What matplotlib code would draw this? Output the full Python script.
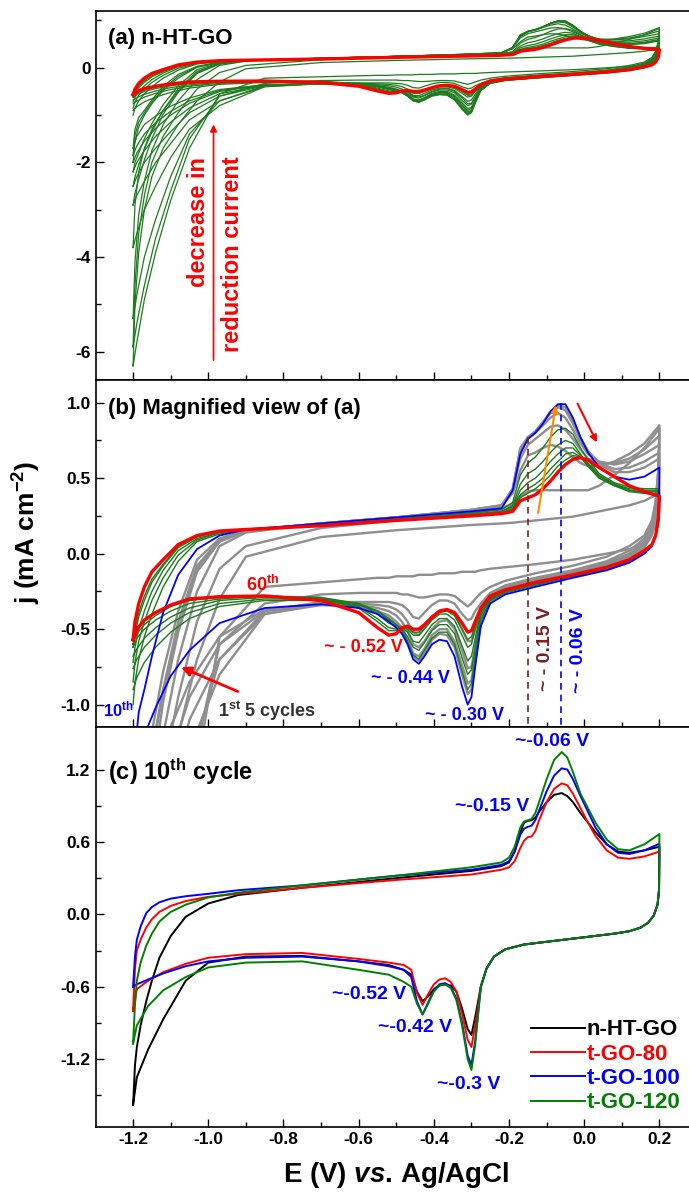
import numpy as np
import matplotlib
matplotlib.use("Agg")
from matplotlib import pyplot as plt

plt.rcParams['font.family'] = ['Liberation Sans', 'DejaVu Sans']
plt.rcParams['font.weight'] = 'bold'
plt.rcParams['axes.unicode_minus'] = False
plt.rcParams['mathtext.fontset'] = 'custom'
plt.rcParams['mathtext.rm'] = 'Liberation Sans:bold'
plt.rcParams['mathtext.bf'] = 'Liberation Sans:bold'
plt.rcParams['mathtext.it'] = 'Liberation Sans:italic:bold'
plt.rcParams['mathtext.default'] = 'bf'

# ---------------- panel (c): 10th cycle of the four samples ----------------
c_fwd_E = [-1.2, -1.195, -1.19, -1.18, -1.165, -1.15, -1.13, -1.1, -1.06, -1.0, -0.92, -0.75,
           -0.5, -0.3, -0.22, -0.2, -0.185, -0.17, -0.16, -0.15, -0.14, -0.13, -0.12, -0.1,
           -0.08, -0.06, -0.045, -0.03, -0.01, 0.01, 0.03, 0.06, 0.09, 0.12, 0.16, 0.2]
c_rev_E = [0.2, 0.199, 0.195, 0.185, 0.17, 0.15, 0.12, 0.08, 0.0, -0.08, -0.16, -0.21, -0.24,
           -0.26, -0.275, -0.29, -0.3, -0.31, -0.325, -0.34, -0.355, -0.37, -0.385, -0.4,
           -0.415, -0.43, -0.445, -0.46, -0.48, -0.52, -0.6, -0.75, -0.9, -1.0, -1.06, -1.12,
           -1.16, -1.19, -1.2]

nht_fwd = [-1.58, -1.25, -1.10, -0.92, -0.72, -0.55, -0.36, -0.18, -0.02, 0.09, 0.16, 0.22,
           0.30, 0.36, 0.40, 0.43, 0.52, 0.68, 0.76, 0.775, 0.78, 0.80, 0.85, 0.93,
           0.99, 1.005, 0.98, 0.93, 0.84, 0.76, 0.68, 0.58, 0.52, 0.51, 0.53, 0.56]
go80_fwd = [-0.80, -0.45, -0.30, -0.21, -0.11, -0.04, 0.02, 0.07, 0.11, 0.145, 0.17, 0.22,
            0.285, 0.33, 0.37, 0.39, 0.44, 0.55, 0.61, 0.64, 0.645, 0.69, 0.78, 0.93,
            1.04, 1.085, 1.07, 1.0, 0.88, 0.76, 0.65, 0.53, 0.47, 0.46, 0.48, 0.52]
go100_fwd = [-0.60, -0.35, -0.21, -0.10, 0.01, 0.06, 0.10, 0.13, 0.15, 0.17, 0.20, 0.24,
             0.32, 0.37, 0.41, 0.44, 0.52, 0.66, 0.71, 0.725, 0.735, 0.78, 0.86, 1.02,
             1.15, 1.21, 1.20, 1.12, 0.98, 0.85, 0.72, 0.58, 0.51, 0.50, 0.53, 0.585]
go120_fwd = [-1.07, -0.75, -0.55, -0.40, -0.26, -0.16, -0.06, 0.02, 0.08, 0.14, 0.18, 0.24,
             0.32, 0.39, 0.43, 0.47, 0.56, 0.72, 0.77, 0.78, 0.79, 0.84, 0.93, 1.12,
             1.28, 1.345, 1.30, 1.18, 1.0, 0.88, 0.76, 0.62, 0.54, 0.53, 0.58, 0.665]

nht_rev = [0.56, 0.2, 0.08, -0.01, -0.07, -0.11, -0.14, -0.16, -0.19, -0.22, -0.25, -0.29, -0.35,
           -0.45, -0.60, -0.85, -1.0, -0.95, -0.78, -0.64, -0.59, -0.58, -0.59, -0.62,
           -0.68, -0.72, -0.64, -0.50, -0.46, -0.42, -0.39, -0.345, -0.35, -0.40, -0.55, -0.87,
           -1.12, -1.35, -1.58]
go80_rev = [0.52, 0.2, 0.08, -0.01, -0.07, -0.11, -0.14, -0.16, -0.19, -0.22, -0.25, -0.29, -0.35,
            -0.45, -0.60, -0.92, -1.1, -1.04, -0.82, -0.64, -0.56, -0.53, -0.54, -0.58,
            -0.66, -0.75, -0.65, -0.46, -0.42, -0.40, -0.37, -0.32, -0.33, -0.36, -0.41, -0.48,
            -0.55, -0.62, -0.80]
go100_rev = [0.585, 0.2, 0.08, -0.01, -0.07, -0.11, -0.14, -0.16, -0.19, -0.22, -0.25, -0.29, -0.35,
             -0.45, -0.60, -1.05, -1.25, -1.17, -0.90, -0.70, -0.60, -0.57, -0.58, -0.63,
             -0.73, -0.83, -0.72, -0.52, -0.46, -0.43, -0.39, -0.35, -0.36, -0.39, -0.43, -0.49,
             -0.54, -0.58, -0.60]
go120_rev = [0.665, 0.2, 0.08, -0.01, -0.07, -0.11, -0.14, -0.16, -0.19, -0.22, -0.25, -0.29, -0.35,
             -0.45, -0.60, -1.08, -1.29, -1.20, -0.92, -0.71, -0.61, -0.58, -0.59, -0.64,
             -0.74, -0.83, -0.74, -0.60, -0.56, -0.50, -0.46, -0.39, -0.40, -0.44, -0.52, -0.63,
             -0.76, -0.92, -1.07]

c_labels = ['n-HT-GO', 't-GO-80', 't-GO-100', 't-GO-120']
c_colors = ['black', 'red', 'blue', 'green']

# ---------------- panels (a)/(b): repeated cycling of n-HT-GO ----------------
EF = [-1.2, -1.195, -1.185, -1.17, -1.15, -1.12, -1.08, -1.03, -0.97, -0.9, -0.7, -0.5, -0.3,
      -0.22, -0.19, -0.17, -0.15, -0.13, -0.11, -0.09, -0.07, -0.05, -0.03, -0.01, 0.01, 0.04,
      0.08, 0.12, 0.16, 0.2]
ER = [0.2, 0.197, 0.19, 0.18, 0.16, 0.12, 0.06, -0.03, -0.13, -0.21, -0.25, -0.275, -0.29, -0.3,
      -0.31, -0.325, -0.345, -0.365, -0.385, -0.405, -0.425, -0.44, -0.455, -0.47, -0.485, -0.5,
      -0.52, -0.55, -0.6, -0.7, -0.85, -0.97, -1.05, -1.1, -1.14, -1.17, -1.19, -1.2]

# first cycles (grey in b)
cyc1_fwd = [-6.3, -5.0, -3.9, -3.0, -2.3, -1.7, -1.2, -0.7, -0.3, -0.02, 0.11, 0.155, 0.19,
            0.2, 0.205, 0.21, 0.215, 0.22, 0.225, 0.23, 0.235, 0.24, 0.245, 0.255, 0.265, 0.28,
            0.30, 0.32, 0.35, 0.40]
cyc1_rev = [0.38, 0.30, 0.20, 0.13, 0.07, 0.03, 0.0, -0.04, -0.07, -0.09, -0.10, -0.11, -0.12, -0.12,
            -0.12, -0.12, -0.13, -0.13, -0.13, -0.14, -0.14, -0.14, -0.15, -0.15, -0.15, -0.15,
            -0.16, -0.16, -0.17, -0.19, -0.22, -0.55, -1.7, -2.8, -3.9, -4.9, -5.8, -6.3]
cyc2_fwd = [-5.9, -4.6, -3.5, -2.7, -2.0, -1.45, -0.95, -0.45, -0.1, 0.05, 0.17, 0.22, 0.27,
            0.30, 0.33, 0.38, 0.41, 0.42, 0.42, 0.42, 0.42, 0.42, 0.42, 0.42, 0.42, 0.45,
            0.52, 0.60, 0.70, 0.83]
cyc2_rev = [0.80, 0.55, 0.35, 0.22, 0.12, 0.05, -0.02, -0.08, -0.13, -0.18, -0.22, -0.26, -0.30, -0.33,
            -0.35, -0.32, -0.28, -0.27, -0.27, -0.28, -0.29, -0.29, -0.28, -0.27, -0.27, -0.26,
            -0.26, -0.26, -0.26, -0.27, -0.33, -0.6, -1.5, -2.6, -3.6, -4.6, -5.4, -5.9]
cyc3_fwd = [-5.3, -4.1, -3.1, -2.4, -1.75, -1.2, -0.7, -0.25, 0.05, 0.14, 0.20, 0.24, 0.29,
            0.32, 0.40, 0.55, 0.65, 0.67, 0.70, 0.72, 0.71, 0.68, 0.64, 0.60, 0.58, 0.58,
            0.61, 0.66, 0.73, 0.85]
cyc3_rev = [0.82, 0.55, 0.33, 0.20, 0.10, 0.02, -0.05, -0.11, -0.16, -0.21, -0.26, -0.33, -0.38, -0.43,
            -0.44, -0.40, -0.33, -0.31, -0.31, -0.34, -0.39, -0.43, -0.42, -0.37, -0.34, -0.33,
            -0.32, -0.32, -0.32, -0.32, -0.38, -0.7, -1.4, -2.3, -3.2, -4.0, -4.8, -5.3]
cyc4_fwd = [-3.8, -2.9, -2.2, -1.7, -1.3, -0.9, -0.5, -0.1, 0.08, 0.15, 0.20, 0.24, 0.29,
            0.32, 0.42, 0.63, 0.72, 0.76, 0.80, 0.84, 0.85, 0.82, 0.76, 0.69, 0.63, 0.60,
            0.60, 0.63, 0.69, 0.78]
cyc4_rev = [0.75, 0.5, 0.3, 0.18, 0.08, 0.0, -0.06, -0.12, -0.17, -0.22, -0.28, -0.38, -0.50, -0.58,
            -0.58, -0.50, -0.40, -0.37, -0.38, -0.42, -0.49, -0.54, -0.52, -0.45, -0.40, -0.37,
            -0.35, -0.34, -0.33, -0.33, -0.40, -0.8, -1.3, -1.9, -2.5, -3.0, -3.5, -3.8]
cyc5_fwd = [-2.9, -2.65, -2.35, -1.95, -1.5, -0.98, -0.52, -0.12, 0.08, 0.15, 0.20, 0.24, 0.29,
            0.32, 0.43, 0.68, 0.76, 0.80, 0.85, 0.90, 0.93, 0.90, 0.82, 0.73, 0.66, 0.61,
            0.59, 0.61, 0.66, 0.72]
cyc5_rev = [0.70, 0.45, 0.27, 0.16, 0.07, -0.01, -0.07, -0.13, -0.18, -0.23, -0.30, -0.42, -0.62, -0.75,
            -0.76, -0.64, -0.50, -0.44, -0.45, -0.50, -0.58, -0.62, -0.60, -0.51, -0.45, -0.41,
            -0.38, -0.36, -0.34, -0.34, -0.40, -0.7, -1.1, -1.6, -2.0, -2.4, -2.7, -2.9]
cyc6_fwd = [-2.5, -2.3, -2.05, -1.72, -1.35, -0.9, -0.45, -0.08, 0.09, 0.15, 0.2, 0.24, 0.285,
            0.31, 0.43, 0.7, 0.77, 0.81, 0.87, 0.93, 0.97, 0.95, 0.86, 0.76, 0.68, 0.60,
            0.56, 0.57, 0.61, 0.67]
cyc6_rev = [0.65, 0.42, 0.25, 0.14, 0.06, -0.02, -0.08, -0.14, -0.19, -0.24, -0.31, -0.44, -0.68, -0.84,
            -0.86, -0.74, -0.58, -0.50, -0.50, -0.54, -0.63, -0.68, -0.66, -0.56, -0.49, -0.45,
            -0.41, -0.38, -0.35, -0.34, -0.38, -0.6, -0.95, -1.35, -1.7, -2.0, -2.3, -2.5]
cyc7_fwd = [-2.2, -2.0, -1.8, -1.5, -1.18, -0.78, -0.38, -0.04, 0.1, 0.155, 0.2, 0.24, 0.285,
            0.305, 0.43, 0.69, 0.77, 0.81, 0.87, 0.94, 0.98, 0.97, 0.88, 0.77, 0.68, 0.59,
            0.54, 0.54, 0.57, 0.63]
cyc7_rev = [0.6, 0.38, 0.22, 0.12, 0.04, -0.03, -0.09, -0.15, -0.2, -0.25, -0.32, -0.46, -0.71, -0.9,
            -0.93, -0.8, -0.62, -0.54, -0.53, -0.57, -0.66, -0.71, -0.68, -0.58, -0.51, -0.47,
            -0.43, -0.39, -0.355, -0.335, -0.37, -0.55, -0.85, -1.15, -1.45, -1.75, -2.0, -2.2]
cyc8_fwd = [-2.0, -1.55, -1.25, -1.0, -0.76, -0.48, -0.22, 0.01, 0.11, 0.155, 0.2, 0.24, 0.283,
            0.303, 0.43, 0.68, 0.77, 0.80, 0.86, 0.94, 0.985, 0.98, 0.89, 0.77, 0.675, 0.58,
            0.52, 0.51, 0.54, 0.60]
cyc8_rev = [0.58, 0.36, 0.2, 0.1, 0.03, -0.04, -0.1, -0.155, -0.21, -0.26, -0.325, -0.47, -0.73, -0.92,
            -0.96, -0.84, -0.65, -0.56, -0.55, -0.58, -0.67, -0.72, -0.69, -0.59, -0.52, -0.48,
            -0.44, -0.395, -0.358, -0.335, -0.365, -0.5, -0.75, -1.0, -1.28, -1.55, -1.8, -2.0]
cyc9_fwd = [-1.85, -1.42, -1.15, -0.95, -0.72, -0.44, -0.18, 0.02, 0.115, 0.157, 0.2, 0.24, 0.282,
            0.302, 0.425, 0.67, 0.765, 0.80, 0.86, 0.94, 0.99, 0.985, 0.895, 0.77, 0.672, 0.575,
            0.515, 0.50, 0.525, 0.585]
cyc9_rev = [0.56, 0.34, 0.18, 0.09, 0.02, -0.05, -0.105, -0.158, -0.215, -0.265, -0.33, -0.475, -0.74, -0.94,
            -0.98, -0.86, -0.67, -0.57, -0.56, -0.59, -0.675, -0.725, -0.695, -0.595, -0.525, -0.485,
            -0.445, -0.398, -0.36, -0.335, -0.362, -0.48, -0.7, -0.92, -1.16, -1.4, -1.65, -1.85]
grey_cycles = [(cyc1_fwd, cyc1_rev), (cyc2_fwd, cyc2_rev), (cyc3_fwd, cyc3_rev),
               (cyc4_fwd, cyc4_rev), (cyc5_fwd, cyc5_rev), (cyc6_fwd, cyc6_rev),
               (cyc7_fwd, cyc7_rev)]
late_grey_cycles = [(cyc8_fwd, cyc8_rev), (cyc9_fwd, cyc9_rev)]

# 10th cycle (blue)
cyc10_fwd = [-1.7, -1.3, -1.05, -0.9, -0.68, -0.39, -0.14, 0.03, 0.12, 0.16, 0.20, 0.24, 0.28,
             0.30, 0.42, 0.66, 0.76, 0.80, 0.86, 0.94, 0.99, 0.99, 0.90, 0.77, 0.67, 0.57,
             0.51, 0.49, 0.51, 0.57]
cyc10_rev = [0.45, 0.25, 0.12, 0.05, 0.0, -0.06, -0.11, -0.16, -0.22, -0.27, -0.33, -0.48, -0.75, -0.95,
             -1.0, -0.88, -0.68, -0.58, -0.57, -0.60, -0.68, -0.73, -0.70, -0.60, -0.53, -0.49,
             -0.45, -0.40, -0.36, -0.335, -0.36, -0.46, -0.64, -0.81, -1.02, -1.2, -1.45, -1.7]

# intermediate cycles (green in b)
cycA_fwd = [-1.0, -0.85, -0.7, -0.55, -0.4, -0.22, -0.05, 0.08, 0.13, 0.16, 0.19, 0.23, 0.27,
            0.29, 0.34, 0.52, 0.60, 0.64, 0.70, 0.77, 0.82, 0.83, 0.79, 0.70, 0.62, 0.53,
            0.47, 0.44, 0.43, 0.43]
cycA_rev = [0.42, 0.25, 0.13, 0.06, 0.01, -0.05, -0.10, -0.15, -0.21, -0.26, -0.31, -0.44, -0.68, -0.86,
            -0.90, -0.78, -0.60, -0.52, -0.52, -0.56, -0.64, -0.70, -0.67, -0.58, -0.51, -0.47,
            -0.43, -0.38, -0.34, -0.31, -0.31, -0.35, -0.43, -0.52, -0.62, -0.72, -0.82, -0.9]
cycB_fwd = [-0.85, -0.72, -0.58, -0.45, -0.31, -0.16, -0.01, 0.09, 0.14, 0.16, 0.19, 0.22, 0.26,
            0.28, 0.32, 0.46, 0.53, 0.56, 0.61, 0.67, 0.72, 0.75, 0.73, 0.66, 0.59, 0.51,
            0.46, 0.43, 0.42, 0.42]
cycB_rev = [0.41, 0.24, 0.13, 0.06, 0.01, -0.05, -0.10, -0.15, -0.20, -0.25, -0.30, -0.41, -0.62, -0.77,
            -0.80, -0.69, -0.53, -0.47, -0.47, -0.51, -0.59, -0.64, -0.62, -0.55, -0.50, -0.47,
            -0.44, -0.38, -0.33, -0.30, -0.30, -0.33, -0.39, -0.46, -0.54, -0.62, -0.70, -0.76]
cycC_fwd = [-0.72, -0.62, -0.50, -0.38, -0.25, -0.11, 0.02, 0.10, 0.14, 0.16, 0.19, 0.22, 0.26,
            0.28, 0.31, 0.42, 0.47, 0.50, 0.55, 0.61, 0.66, 0.70, 0.70, 0.65, 0.58, 0.50,
            0.45, 0.42, 0.41, 0.41]
cycC_rev = [0.40, 0.23, 0.12, 0.06, 0.01, -0.05, -0.10, -0.15, -0.20, -0.25, -0.30, -0.39, -0.56, -0.68,
            -0.71, -0.61, -0.48, -0.43, -0.43, -0.47, -0.54, -0.59, -0.58, -0.52, -0.49, -0.48,
            -0.46, -0.40, -0.33, -0.29, -0.29, -0.31, -0.36, -0.42, -0.49, -0.56, -0.63, -0.68]
cycD_fwd = [-0.62, -0.53, -0.42, -0.31, -0.19, -0.08, 0.04, 0.11, 0.15, 0.16, 0.19, 0.22, 0.26,
            0.27, 0.30, 0.39, 0.43, 0.46, 0.50, 0.56, 0.61, 0.66, 0.67, 0.64, 0.58, 0.50,
            0.45, 0.41, 0.40, 0.40]
cycD_rev = [0.39, 0.22, 0.12, 0.06, 0.01, -0.05, -0.10, -0.15, -0.20, -0.25, -0.29, -0.37, -0.50, -0.60,
            -0.62, -0.54, -0.44, -0.40, -0.40, -0.44, -0.50, -0.54, -0.54, -0.50, -0.49, -0.50,
            -0.49, -0.43, -0.35, -0.29, -0.28, -0.30, -0.33, -0.38, -0.44, -0.50, -0.56, -0.62]
cycE_fwd = [-0.6, -0.5, -0.39, -0.28, -0.17, -0.07, 0.05, 0.115, 0.15, 0.16, 0.19, 0.22, 0.255,
            0.27, 0.295, 0.37, 0.40, 0.43, 0.47, 0.52, 0.58, 0.62, 0.65, 0.64, 0.60, 0.52,
            0.46, 0.42, 0.40, 0.39]
cycE_rev = [0.38, 0.22, 0.12, 0.06, 0.015, -0.045, -0.095, -0.145, -0.195, -0.245, -0.285, -0.37, -0.47, -0.55,
            -0.57, -0.50, -0.41, -0.38, -0.39, -0.43, -0.48, -0.52, -0.52, -0.49, -0.49, -0.51,
            -0.51, -0.45, -0.36, -0.30, -0.28, -0.29, -0.31, -0.35, -0.41, -0.47, -0.53, -0.6]
green_cycles = [(cycA_fwd, cycA_rev), (cycB_fwd, cycB_rev), (cycC_fwd, cycC_rev),
                (cycD_fwd, cycD_rev), (cycE_fwd, cycE_rev)]

# 60th cycle (red)
cyc60_fwd = [-0.57, -0.45, -0.33, -0.22, -0.12, -0.04, 0.06, 0.12, 0.15, 0.16, 0.185, 0.22, 0.25,
             0.265, 0.28, 0.35, 0.37, 0.39, 0.43, 0.48, 0.54, 0.59, 0.625, 0.635, 0.62, 0.57,
             0.51, 0.45, 0.41, 0.38]
cyc60_rev = [0.37, 0.22, 0.12, 0.06, 0.02, -0.04, -0.09, -0.14, -0.19, -0.24, -0.28, -0.36, -0.45, -0.51,
             -0.52, -0.46, -0.39, -0.37, -0.38, -0.42, -0.47, -0.50, -0.50, -0.48, -0.49, -0.53,
             -0.54, -0.49, -0.39, -0.31, -0.28, -0.285, -0.30, -0.34, -0.39, -0.44, -0.50, -0.57]


def loop(fwd, rev):
    return EF + ER, list(fwd) + list(rev)


GREEN = '#1d7a1d'
GREY = '#8e8e8e'

fig = plt.figure(figsize=(6.89, 11.96), dpi=100)
L, W = 95.5 / 689, 601.5 / 689
ax_a = fig.add_axes([L, 1 - 380 / 1196, W, 369 / 1196])
ax_b = fig.add_axes([L, 1 - 727.3 / 1196, W, 347.3 / 1196])
ax_c = fig.add_axes([L, 1 - 1126.7 / 1196, W, 399.4 / 1196])

# ---- (a)
all_cycles = grey_cycles + late_grey_cycles + [(cyc10_fwd, cyc10_rev)] + green_cycles
for f, r in all_cycles:
    x, y = loop(f, r)
    ax_a.plot(x, y, color=GREEN, lw=0.9)
x, y = loop(cyc60_fwd, cyc60_rev)
ax_a.plot(x, y, color='red', lw=2.4)
ax_a.set_ylim(-6.6, 1.2)
ax_a.set_yticks([-6, -4, -2, 0])
ax_a.set_yticks([-5, -3, -1, 1], minor=True)
ax_a.text(0.02, 0.925, '(a) n-HT-GO', transform=ax_a.transAxes, fontsize=16, va='center')
ax_a.annotate('', xy=(-0.986, -1.14), xytext=(-0.986, -6.24),
              arrowprops=dict(arrowstyle='-|>', color='red', lw=1.2, mutation_scale=10))
ax_a.text(-1.025, -1.88, 'decrease in', color='red', rotation=90, ha='center', va='top', fontsize=17)
ax_a.text(-0.935, -1.88, 'reduction current', color='red', rotation=90, ha='center', va='top', fontsize=17)

# ---- (b)
for f, r in grey_cycles:
    x, y = loop(f, r)
    ax_b.plot(x, y, color=GREY, lw=1.7)
for f, r in green_cycles:
    x, y = loop(f, r)
    ax_b.plot(x, y, color=GREEN, lw=1.0)
x, y = loop(cyc10_fwd, cyc10_rev)
ax_b.plot(x, y, color='blue', lw=1.3)
x, y = loop(cyc60_fwd, cyc60_rev)
ax_b.plot(x, y, color='red', lw=2.4)
ax_b.set_ylim(-1.15, 1.15)
ax_b.set_yticks([-1.0, -0.5, 0.0, 0.5, 1.0])
ax_b.set_yticks([-0.75, -0.25, 0.25, 0.75], minor=True)
ax_b.set_yticklabels(['-1.0', '-0.5', '0.0', '0.5', '1.0'])
ax_b.text(0.02, 0.919, '(b) Magnified view of (a)', transform=ax_b.transAxes, fontsize=16, va='center')
ax_b.plot([-0.15, -0.15], [0.77, -1.15], ls=(0, (4, 3)), color='#7a1f1f', lw=1.2)
ax_b.plot([-0.062, -0.062], [1.0, -1.15], ls=(0, (4, 3)), color='blue', lw=1.2)
ax_b.text(-0.103, -0.63, '~ - 0.15 V', rotation=90, color='#7a1f1f', ha='center', va='center', fontsize=14)
ax_b.text(-0.015, -0.645, '~ - 0.06 V', rotation=90, color='blue', ha='center', va='center', fontsize=14)
ax_b.text(-0.588, -0.62, '~ - 0.52 V', color='red', ha='center', va='center', fontsize=13)
ax_b.text(-0.463, -0.83, '~ - 0.44 V', color='blue', ha='center', va='center', fontsize=13)
ax_b.text(-0.319, -1.075, '~ - 0.30 V', color='blue', ha='center', va='center', fontsize=13)
ax_b.text(-0.855, -0.21, '60$^{th}$', color='red', ha='center', va='center', fontsize=13)
ax_b.text(-1.24, -1.03, '10$^{th}$', color='blue', ha='center', va='center', fontsize=12)
ax_b.text(-0.974, -1.04, '1$^{st}$ 5 cycles', color='#333333', ha='left', va='center', fontsize=13)
ax_b.annotate('', xy=(-1.079, -0.745), xytext=(-0.915, -0.92),
              arrowprops=dict(arrowstyle='-|>', color='red', lw=2, mutation_scale=14))
ax_b.annotate('', xy=(-0.074, 1.0), xytext=(-0.124, 0.25),
              arrowprops=dict(arrowstyle='-|>', color='darkorange', lw=1.5, mutation_scale=10))
ax_b.annotate('', xy=(0.037, 0.72), xytext=(-0.021, 1.01),
              arrowprops=dict(arrowstyle='-|>', color='red', lw=1.5, mutation_scale=10))
ax_b.set_ylabel('j (mA cm$^{-2}$)', fontsize=19, fontweight='bold')
ax_b.yaxis.set_label_coords(-0.088, 0.56)

# ---- (c)
for lab, col, f, r in zip(c_labels, c_colors, [nht_fwd, go80_fwd, go100_fwd, go120_fwd],
                          [nht_rev, go80_rev, go100_rev, go120_rev]):
    ax_c.plot(c_fwd_E + c_rev_E, list(f) + list(r), color=col, lw=1.4, label=lab)
ax_c.set_ylim(-1.76, 1.55)
ax_c.set_yticks([-1.2, -0.6, 0.0, 0.6, 1.2])
ax_c.set_yticks([-1.5, -0.9, -0.3, 0.3, 0.9], minor=True)
ax_c.text(0.02, 0.888, '(c) 10$^{th}$ cycle', transform=ax_c.transAxes, fontsize=17, va='center')
for s, ex, ey in [('~-0.06 V', -0.085, 1.435), ('~-0.15 V', -0.246, 0.89), ('~-0.52 V', -0.573, -0.668),
                  ('~-0.42 V', -0.45, -0.94), ('~-0.3 V', -0.307, -1.41)]:
    ax_c.text(ex, ey, s, color='blue', ha='center', va='center', fontsize=14)
leg = ax_c.legend(loc='lower right', bbox_to_anchor=(0.995, 0.0), frameon=False, fontsize=16,
                  handlelength=2.4, labelcolor='linecolor', borderaxespad=0.2, labelspacing=0.15,
                  handletextpad=0.1)
ax_c.set_xlabel('E (V) $\\it{vs}$. Ag/AgCl', fontsize=20, fontweight='bold', labelpad=10)

for ax in (ax_a, ax_b, ax_c):
    ax.set_xlim(-1.3, 0.3)
    ax.set_xticks([-1.2, -1.0, -0.8, -0.6, -0.4, -0.2, 0.0, 0.2])
    ax.set_xticks([-1.1, -0.9, -0.7, -0.5, -0.3, -0.1, 0.1], minor=True)
    ax.tick_params(direction='in', which='major', length=6, width=1, labelsize=12.5)
    ax.tick_params(direction='in', which='minor', length=3.5, width=1)
    for sp in ax.spines.values():
        sp.set_linewidth(1.2)
ax_a.tick_params(labelbottom=False)
ax_b.tick_params(labelbottom=False)
ax_c.set_xticklabels(['-1.2', '-1.0', '-0.8', '-0.6', '-0.4', '-0.2', '0.0', '0.2'])
ax_c.set_yticklabels(['-1.2', '-0.6', '0.0', '0.6', '1.2'])

fig.savefig('out.png', dpi=100)
